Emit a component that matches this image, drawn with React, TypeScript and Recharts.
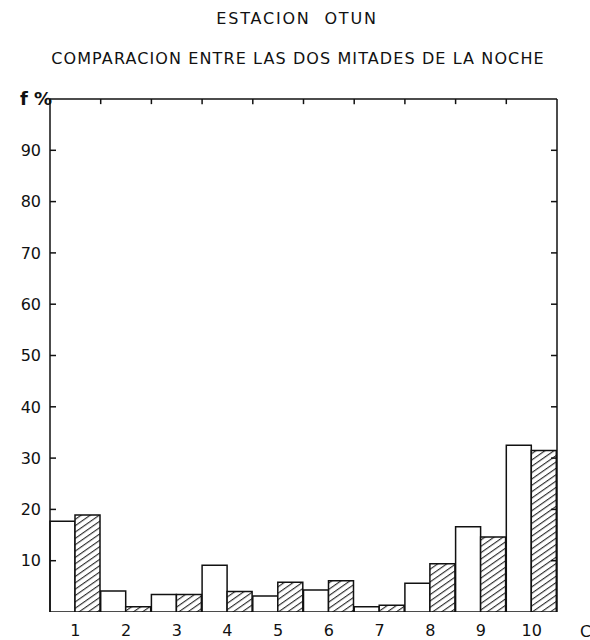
import * as React from "react";
import { BarChart, Bar, XAxis, YAxis, ReferenceLine } from "recharts";

const categories = ["1", "2", "3", "4", "5", "6", "7", "8", "9", "10"];
const firstHalf = [17.7, 4.1, 3.4, 9.1, 3.1, 4.3, 1.0, 5.6, 16.6, 32.5];
const secondHalf = [18.9, 1.0, 3.4, 4.0, 5.8, 6.1, 1.3, 9.4, 14.6, 31.5];
const yTicks = [10, 20, 30, 40, 50, 60, 70, 80, 90];
const boundaryTicks = [0, 1, 2, 3, 4, 5, 6, 7, 8, 9, 10];
const innerBoundaries = [1, 2, 3, 4, 5, 6, 7, 8, 9];

const data = categories.map((c, i) => ({
  cat: c,
  idx: i + 0.5,
  first: firstHalf[i],
  second: secondHalf[i],
}));

const font = '"DejaVu Sans", sans-serif';
const ink = "#111";

// tick marks in the original point into the plot
const LeftTick = (props: any) => {
  const x = Number(props.x);
  const y = Number(props.y);
  return (
    <g>
      <path d={`M${x},${y}H${x + 6}`} stroke={ink} strokeWidth={1.5} fill="none" />
      <text x={x - 9} y={y} dy="0.36em" textAnchor="end" fontSize={16} fontFamily={font} fill={ink}>
        {props.payload.value}
      </text>
    </g>
  );
};

const RightTick = (props: any) => {
  const x = Number(props.x);
  const y = Number(props.y);
  return <path d={`M${x},${y}H${x - 6}`} stroke={ink} strokeWidth={1.5} fill="none" />;
};

export default function App() {
  return (
    <div style={{ position: "relative", width: 590, height: 640, background: "#fff" }}>
      <style>{"body{margin:0}"}</style>
      <div
        style={{
          position: "absolute",
          top: 9,
          left: 2,
          width: 590,
          textAlign: "center",
          fontFamily: font,
          fontSize: 16,
          letterSpacing: 1.8,
          color: ink,
        }}
      >
        ESTACION&nbsp; OTUN
      </div>
      <div
        style={{
          position: "absolute",
          top: 49,
          left: 0,
          width: 596,
          textAlign: "center",
          fontFamily: font,
          fontSize: 16,
          letterSpacing: 1.1,
          color: ink,
        }}
      >
        COMPARACION ENTRE LAS DOS MITADES DE LA NOCHE
      </div>
      <div
        style={{
          position: "absolute",
          top: 88,
          left: 20,
          fontFamily: font,
          fontSize: 18,
          fontWeight: "bold",
          color: ink,
        }}
      >
        f %
      </div>
      <div
        style={{
          position: "absolute",
          top: 622,
          left: 580,
          fontFamily: font,
          fontSize: 16,
          color: ink,
        }}
      >
        C
      </div>
      <BarChart
        width={590}
        height={640}
        data={data}
        margin={{ top: 99, right: 27, bottom: 0, left: 10 }}
        barCategoryGap={0}
        barGap={0}
      >
        <defs>
          <pattern
            id="hatch"
            patternUnits="userSpaceOnUse"
            width={10}
            height={5.2}
            patternTransform="rotate(-35)"
          >
            <rect width={10} height={5.2} fill="#fff" />
            <line x1={0} y1={0.6} x2={10} y2={0.6} stroke={ink} strokeWidth={1} />
          </pattern>
        </defs>
        <XAxis
          xAxisId="edges"
          type="number"
          dataKey="idx"
          domain={[0, 10]}
          ticks={boundaryTicks}
          tick={false}
          tickSize={6}
          height={0}
          axisLine={{ stroke: ink, strokeWidth: 1.5 }}
          tickLine={{ stroke: ink, strokeWidth: 1.5 }}
        />
        <XAxis
          xAxisId="cat"
          dataKey="cat"
          axisLine={false}
          tickLine={false}
          tickSize={0}
          tickMargin={13}
          height={28}
          tick={{ fontSize: 16, fontFamily: font, fill: ink }}
        />
        <YAxis
          yAxisId="left"
          domain={[0, 100]}
          ticks={yTicks}
          width={40}
          tickSize={0}
          tickMargin={0}
          tickLine={false}
          axisLine={{ stroke: ink, strokeWidth: 1.5 }}
          tick={<LeftTick />}
          allowDataOverflow
        />
        <YAxis
          yAxisId="right"
          orientation="right"
          dataKey="first"
          domain={[0, 100]}
          ticks={yTicks}
          width={6}
          tickSize={0}
          tickMargin={0}
          tickLine={false}
          axisLine={{ stroke: ink, strokeWidth: 1.5 }}
          tick={<RightTick />}
          allowDataOverflow
        />
        <ReferenceLine yAxisId="left" xAxisId="cat" y={100} stroke={ink} strokeWidth={1.5} />
        {innerBoundaries.map((b) => (
          <ReferenceLine
            key={b}
            xAxisId="edges"
            yAxisId="left"
            segment={[
              { x: b, y: 100 },
              { x: b, y: 99 },
            ]}
            stroke={ink}
            strokeWidth={1.5}
          />
        ))}
        <Bar
          xAxisId="cat"
          yAxisId="left"
          dataKey="first"
          fill="#fff"
          stroke={ink}
          strokeWidth={1.5}
          isAnimationActive={false}
        />
        <Bar
          xAxisId="cat"
          yAxisId="left"
          dataKey="second"
          fill="url(#hatch)"
          stroke={ink}
          strokeWidth={1.5}
          isAnimationActive={false}
        />
      </BarChart>
    </div>
  );
}
